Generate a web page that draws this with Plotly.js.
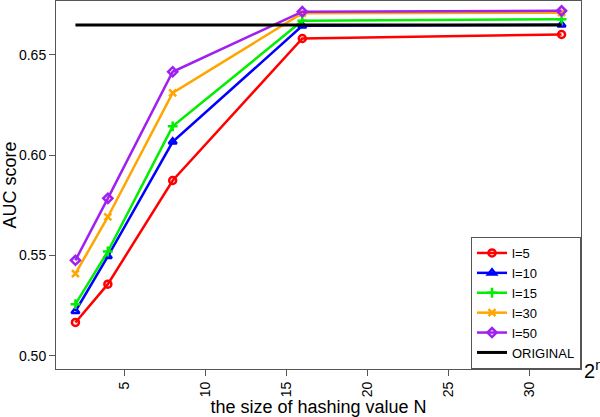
<!DOCTYPE html>
<html><head><meta charset="utf-8">
<script src="https://cdn.plot.ly/plotly-3.0.1.min.js"></script>
<style>body{margin:0;padding:0;background:#fff}#chart{width:600px;height:417px}</style>
</head><body><div id="chart"></div>
<script>
const N = [2, 4, 8, 16, 32];
const names = ["l=5", "l=10", "l=15", "l=30", "l=50"];
const auc_l5  = [0.5166, 0.5357, 0.5874, 0.6582, 0.6602];
const auc_l10 = [0.5222, 0.5496, 0.6067, 0.6645, 0.6650];
const auc_l15 = [0.5257, 0.5520, 0.6144, 0.6670, 0.6678];
const auc_l30 = [0.5410, 0.5692, 0.6311, 0.6708, 0.6711];
const auc_l50 = [0.5476, 0.5785, 0.6416, 0.6716, 0.6720];
const originalX = [2, 32];
const originalY = [0.6649, 0.6649];
const colors = ["#FF0000", "#0000FF", "#00EE00", "#FFA500", "#A020F0"];
const symbols = ["circle-open", "triangle-up-open", "cross-thin-open", "x-thin-open", "diamond-open"];
const series = [auc_l5, auc_l10, auc_l15, auc_l30, auc_l50];

const traces = series.map((ys, i) => ({
  x: N, y: ys, name: names[i], type: "scatter", mode: "lines+markers",
  line: {color: colors[i], width: 2.5},
  marker: {symbol: symbols[i], size: 7, color: colors[i], line: {color: colors[i], width: 2.5}}
}));
traces.push({x: originalX, y: originalY, name: "ORIGINAL", type: "scatter", mode: "lines",
  line: {color: "#000000", width: 3}});

const font = "Liberation Sans, Arial, Helvetica, sans-serif";
const layout = {
  width: 600, height: 417,
  margin: {l: 56, r: 19, t: 1, b: 48},
  paper_bgcolor: "#fff", plot_bgcolor: "#fff",
  font: {family: font, color: "#000", size: 14},
  showlegend: true,
  legend: {x: 1, xanchor: "right", y: 0, yanchor: "bottom", bgcolor: "#fff",
    bordercolor: "#555", borderwidth: 1, font: {size: 13, family: font},
    tracegroupgap: 0, itemwidth: 30},
  xaxis: {range: [0.8, 33.2], tickvals: [5, 10, 15, 20, 25, 30], ticktext: ["5","10","15","20","25","30"],
    tickangle: -90, ticks: "outside", ticklen: 6, tickcolor: "#555", showline: true, linecolor: "#555",
    linewidth: 1, mirror: true, showgrid: false, zeroline: false, tickfont: {size: 14},
    title: {text: "the size of hashing value N", font: {size: 18}, standoff: 6}},
  yaxis: {range: [0.4934, 0.6769], tickvals: [0.50, 0.55, 0.60, 0.65], ticktext: ["0.50","0.55","0.60","0.65"],
    ticks: "outside", ticklen: 6, tickcolor: "#555", showline: true, linecolor: "#555",
    linewidth: 1, mirror: true, showgrid: false, zeroline: false, tickfont: {size: 14},
    title: {text: "AUC score", font: {size: 18}, standoff: 4}},
  annotations: [{xref: "paper", yref: "paper", x: 1, y: 0, xanchor: "left", yanchor: "middle",
    xshift: 1, showarrow: false, text: "2<sup>n</sup>", font: {size: 20, family: font}}]
};
Plotly.newPlot("chart", traces, layout, {displayModeBar: false, staticPlot: true});
</script></body></html>
